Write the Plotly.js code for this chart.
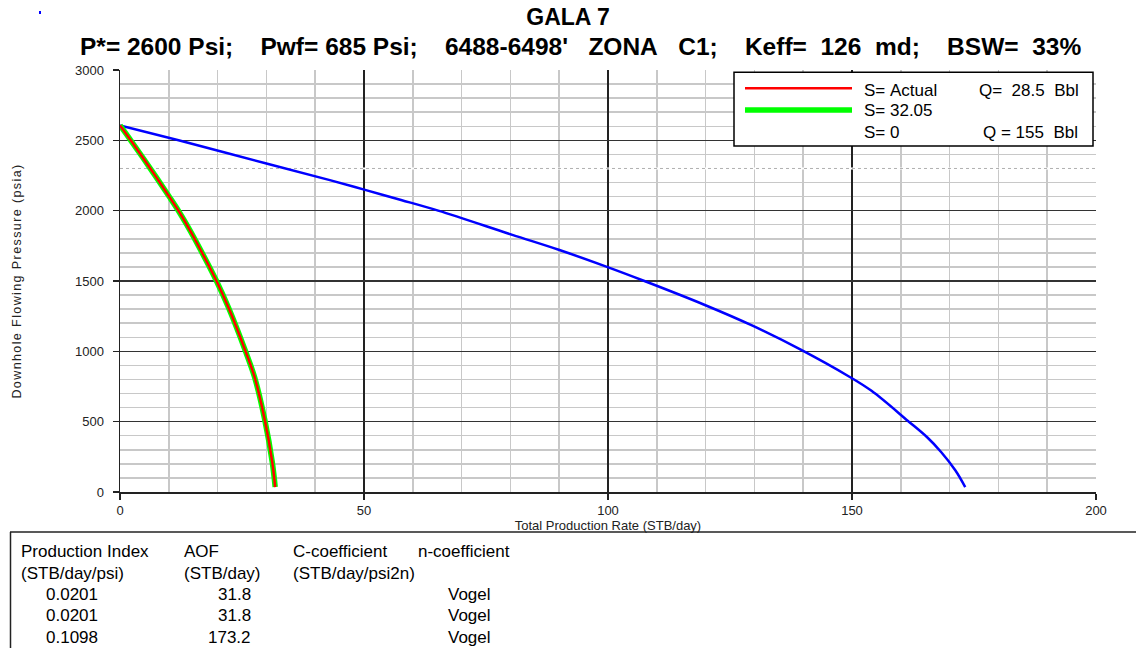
<!DOCTYPE html>
<html>
<head>
<meta charset="utf-8">
<script src="https://cdn.plot.ly/plotly-3.0.1.min.js"></script>
<style>html,body{margin:0;padding:0;background:#fff}#chart{width:1136px;height:648px}</style>
</head>
<body>
<div id="chart"></div>
<script>
// ---- data ----
const rateS0 = [0, 12, 30, 43, 50.4, 57.6, 65.2, 80.4, 89.9, 99.5, 107.6, 119.6, 129.5, 139.4, 149.2, 154.0, 161.4, 165.4, 168.3, 171.2, 173.2];
const pressS0 = [2606, 2500, 2335, 2217, 2146, 2076, 2000, 1828, 1722, 1604, 1498, 1333, 1184, 1014, 825, 719, 507, 389, 283, 153, 35];
const rateActual = [0, 2.2, 6.5, 10.1, 12.0, 13.7, 15.4, 19.7, 22.4, 25.7, 27.6, 29.7, 31.2, 31.8];
const pressActual = [2606, 2500, 2285, 2099, 1998, 1899, 1793, 1505, 1297, 1002, 814, 507, 212, 35];
const rateS3205 = rateActual.slice();
const pressS3205 = pressActual.slice();

const titleLine1 = 'GALA 7';
const titleLine2 = 'P*= 2600 Psi;    Pwf= 685 Psi;    6488-6498\'   ZONA   C1;    Keff=  126  md;    BSW=  33%';
const legendNames = ['S= Actual', 'S= 32.05', 'S= 0'];
const legendRates = ['Q=  28.5  Bbl', '', 'Q = 155  Bbl'];
const tableHeader1 = ['Production Index', 'AOF', 'C-coefficient', 'n-coefficient'];
const tableHeader2 = ['(STB/day/psi)', '(STB/day)', '(STB/day/psi2n)'];
const productionIndex = ['0.0201', '0.0201', '0.1098'];
const aofValues = ['31.8', '31.8', '173.2'];
const methodValues = ['Vogel', 'Vogel', 'Vogel'];
const dottedGridP = 2300;

const nb = s => s.replace(/ /g, '\u00A0');
const FONT = 'Liberation Sans, Arial, sans-serif';

// pixel helpers (plot area 120..1096 x 70..492)
const L = 120, R = 1096, T = 70, B = 492;
const px = x => (x - L) / (R - L);
const py = y => (B - y) / (B - T);

const traces = [
  {x: rateS0, y: pressS0, mode: 'lines', line: {color: '#0000ff', width: 2.5, shape: 'spline', smoothing: 1}, name: 'S= 0'},
  {x: rateS3205, y: pressS3205, mode: 'lines', line: {color: '#00ff00', width: 5.5, shape: 'spline', smoothing: 1}, name: 'S= 32.05'},
  {x: rateActual, y: pressActual, mode: 'lines', line: {color: '#ff0000', width: 2.5, shape: 'spline', smoothing: 1}, name: 'S= Actual'}
];

const shapes = [
  {type: 'line', xref: 'x', yref: 'y', x0: 0, x1: 200, y0: dottedGridP, y1: dottedGridP, layer: 'between', line: {color: '#ffffff', width: 2}},
  {type: 'line', xref: 'x', yref: 'y', x0: 0, x1: 200, y0: dottedGridP, y1: dottedGridP, layer: 'between', line: {color: '#b0b0b0', width: 1, dash: 'dot'}},
  {type: 'rect', xref: 'paper', yref: 'paper', x0: px(734), x1: px(1093), y0: py(146), y1: py(72.3), fillcolor: '#ffffff', line: {color: '#000', width: 1.5}, layer: 'above'},
  {type: 'line', xref: 'paper', yref: 'paper', x0: px(745), x1: px(852), y0: py(88.3), y1: py(88.3), line: {color: '#ff0000', width: 2.5}, layer: 'above'},
  {type: 'line', xref: 'paper', yref: 'paper', x0: px(745), x1: px(852), y0: py(110), y1: py(110), line: {color: '#00ff00', width: 5.5}, layer: 'above'},
  {type: 'line', xref: 'paper', yref: 'paper', x0: px(10), x1: px(1140), y0: py(532), y1: py(532), line: {color: '#222', width: 1.5}, layer: 'above'},
  {type: 'line', xref: 'paper', yref: 'paper', x0: px(10.5), x1: px(10.5), y0: py(532), y1: py(660), line: {color: '#222', width: 1.5}, layer: 'above'},
  {type: 'rect', xref: 'paper', yref: 'paper', x0: px(39), x1: px(41), y0: py(14), y1: py(11), fillcolor: '#0000ff', line: {width: 0}, layer: 'above'}
];

const ann = [];
function txt(text, x, y, size, anchor, opts) {
  ann.push(Object.assign({text: nb(text), xref: 'paper', yref: 'paper', x: px(x), y: py(y), xanchor: anchor || 'left', yanchor: 'middle', showarrow: false, borderpad: 0, font: {family: FONT, size: size, color: '#000'}}, opts || {}));
}
txt(titleLine2, 580, 47, 24.5, 'center', {font: {family: FONT, size: 24.5, color: '#000', weight: 'bold'}});
const legY = [90, 111, 132.7];
legendNames.forEach((n, i) => txt(n, 863, legY[i], 17));
txt(legendRates[0], 978, legY[0], 17);
txt(legendRates[2], 982, legY[2], 17);
const colX = [20, 182.7, 292, 417];
const rowY = [551, 573, 594, 615, 637];
tableHeader1.forEach((h, i) => txt(h, colX[i], rowY[0], 17));
tableHeader2.forEach((h, i) => txt(h, colX[i], rowY[1], 17));
productionIndex.forEach((v, i) => txt(v, 45, rowY[2 + i], 17));
aofValues.forEach((v, i) => txt(v, 252, rowY[2 + i], 17, 'right'));
methodValues.forEach((v, i) => txt(v, 447, rowY[2 + i], 17));

const layout = {
  width: 1136, height: 648,
  margin: {l: L, r: 1136 - R, t: T, b: 648 - B, pad: 0},
  paper_bgcolor: '#fff', plot_bgcolor: '#fff',
  showlegend: false,
  title: {text: titleLine1, x: 0.5, xanchor: 'center', y: 1 - 17 / 648, yanchor: 'middle', font: {family: FONT, size: 23, color: '#000', weight: 'bold'}},
  xaxis: {
    range: [0, 200], dtick: 50, tick0: 0, showgrid: true, gridcolor: '#222', gridwidth: 1.5,
    minor: {dtick: 10, showgrid: true, gridcolor: '#c8c8c8', gridwidth: 1.5, ticks: ''},
    showline: true, linecolor: '#222', linewidth: 1.5, ticks: 'outside', ticklen: 6, tickcolor: '#222', tickwidth: 1.5,
    zeroline: false, tickfont: {family: FONT, size: 13, color: '#222'},
    title: {text: 'Total Production Rate (STB/day)', font: {family: FONT, size: 13, color: '#222'}, standoff: 4}
  },
  yaxis: {
    range: [0, 3000], dtick: 500, tick0: 0, showgrid: true, gridcolor: '#333', gridwidth: 1.5,
    minor: {dtick: 100, showgrid: true, gridcolor: '#c8c8c8', gridwidth: 1.5, ticks: ''},
    showline: true, linecolor: '#222', linewidth: 1.5, ticks: 'outside', ticklen: 6, tickcolor: '#222', tickwidth: 1.5,
    zeroline: false, tickfont: {family: FONT, size: 13, color: '#222'}, ticklabelstandoff: 6,
    title: {text: 'Downhole Flowing Pressure (psia)', font: {family: FONT, size: 12.5, color: '#222'}, standoff: 50}
  },
  shapes: shapes,
  annotations: ann
};

Plotly.newPlot('chart', traces, layout, {displayModeBar: false, staticPlot: true}).then(() => {
  const yt = document.querySelector('.ytitle');
  if (yt) yt.style.letterSpacing = '1.4px';
});
</script>
</body>
</html>
